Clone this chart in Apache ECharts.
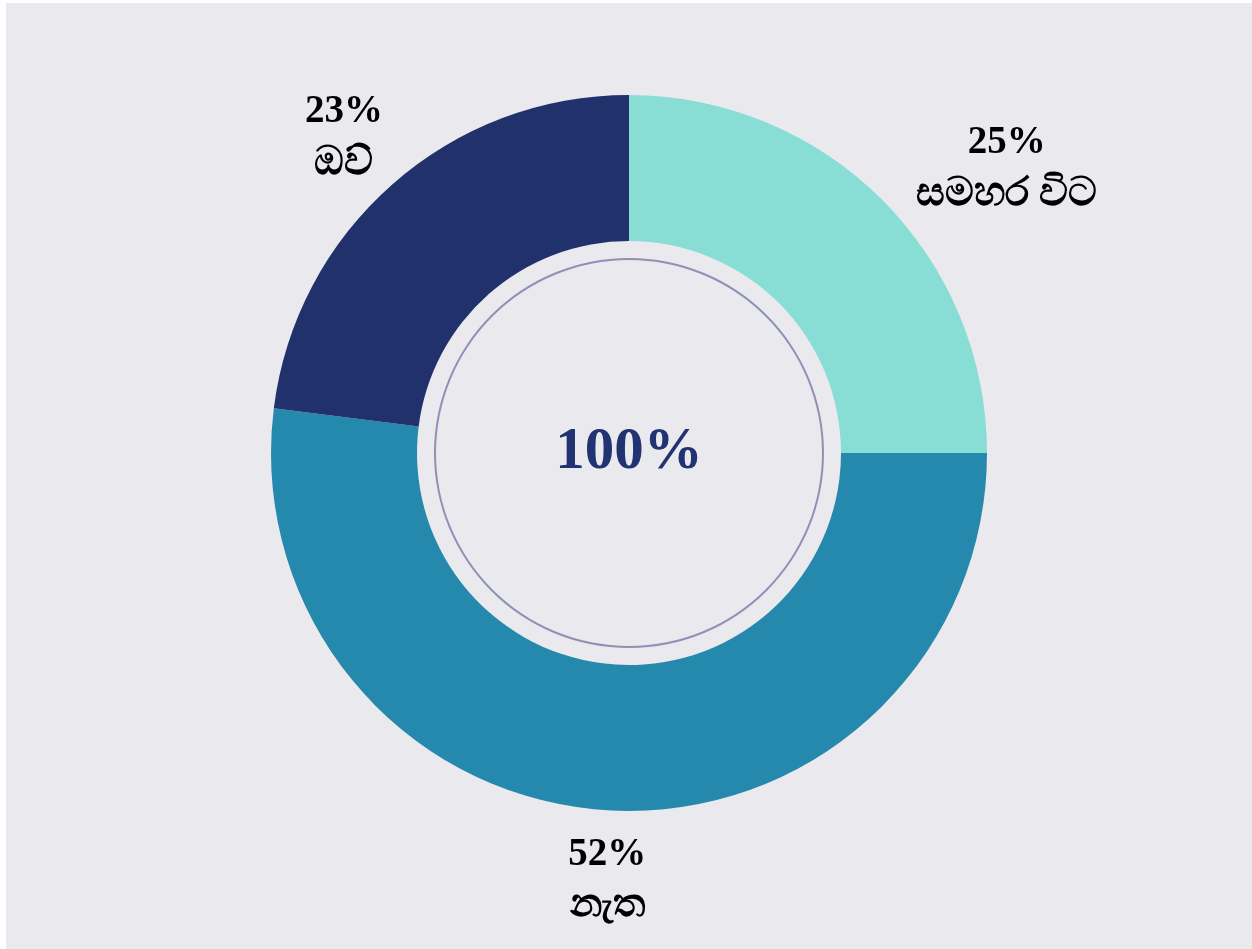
<!DOCTYPE html>
<html>
<head>
<meta charset="utf-8">
<script src="https://cdn.jsdelivr.net/npm/echarts@6/dist/echarts.min.js"></script>
<style>
html, body { margin: 0; padding: 0; background: #fff; }
#chart { width: 1252px; height: 949px; }
</style>
</head>
<body>
<div id="chart"></div>
<script>
// data
const names = ['සමහර විට', 'නැත', 'ඔව්']
const values = [25, 52, 23]
const colors = ['#88ddd5', '#2589ae', '#20316b']
const centerLabel = '100%'
// label line lengths so labels sit where the original has them
const lineLen = [49, 67, 67]
const lineLen2 = [88, 0, 5]
const nudgeX = [-3, 10, 6]

const serif = '"Liberation Serif", "Times New Roman", serif'

let chartDom = document.getElementById('chart')
let myChart = echarts.init(chartDom, null, { renderer: 'canvas' })

let option = {
    backgroundColor: '#ffffff',
    animation: false,
    graphic: [
        {
            type: 'rect',
            z: -10,
            shape: { x: 6, y: 3, width: 1246, height: 946 },
            style: { fill: '#eae9ee' },
            silent: true
        }
    ],
    series: [
        {
            type: 'pie',
            center: [629, 453],
            radius: [212, 358],
            startAngle: 90,
            clockwise: true,
            avoidLabelOverlap: false,
            data: names.map((n, i) => ({
                name: n,
                value: values[i],
                itemStyle: { color: colors[i] },
                labelLine: { length: lineLen[i], length2: lineLen2[i] }
            })),
            label: {
                show: true,
                position: 'outside',
                formatter: (p) => '{p|' + p.value + '%}\n{n|' + p.name + '}',
                rich: {
                    p: {
                        fontFamily: serif,
                        fontWeight: 'bold',
                        fontSize: 39,
                        color: '#000',
                        lineHeight: 46,
                        align: 'center'
                    },
                    n: {
                        fontFamily: serif,
                        fontWeight: 'bold',
                        fontSize: 40,
                        color: '#000',
                        lineHeight: 56,
                        align: 'center'
                    }
                }
            },
            labelLine: { show: false },
            labelLayout: (params) => ({
                align: 'center',
                verticalAlign: 'middle',
                dx: nudgeX[params.dataIndex],
                dy: 6
            }),
            emphasis: { disabled: true }
        },
        {
            // inner thin ring + centre text
            type: 'pie',
            center: [629, 453],
            radius: [193, 195],
            silent: true,
            data: [{ name: 'total', value: 1 }],
            itemStyle: { color: '#8d92b4' },
            label: {
                show: true,
                position: 'center',
                formatter: centerLabel,
                fontFamily: serif,
                fontWeight: 'bold',
                fontSize: 59,
                color: '#213370',
                padding: [4, 0, 0, 0]
            },
            labelLine: { show: false },
            emphasis: { disabled: true }
        }
    ]
}

myChart.setOption(option)
</script>
</body>
</html>
